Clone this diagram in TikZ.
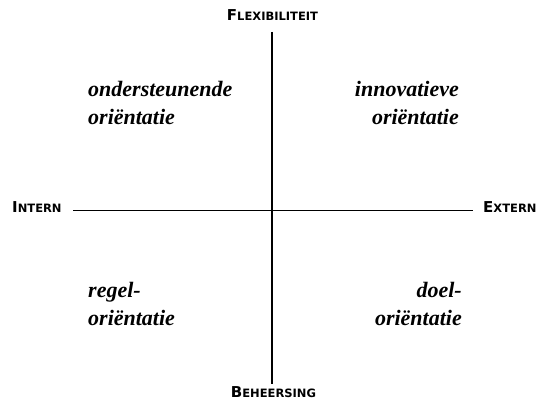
\documentclass[tikz,border=0pt]{standalone}
\usepackage{fontspec}
\setmainfont{Liberation Serif}
\newfontfamily\axisfont{DejaVu Sans}
\newcommand\smcap[2]{{\fontsize{15}{15}\selectfont #1}{\fontsize{11.5}{11.5}\selectfont #2}}
\tikzset{
  quad/.style={inner sep=0pt, font=\fontsize{22}{22}\selectfont\bfseries\itshape},
  axislabel/.style={inner sep=0pt, font=\axisfont\bfseries},
  axisline/.style={draw=black, line width=1.6pt}
}
\begin{document}
\begin{tikzpicture}[x=1pt,y=-1pt]
\useasboundingbox (0,0) rectangle (537,401);
% axes
\coordinate (top) at (272,32);
\coordinate (bottom) at (272,384);
\coordinate (left) at (73,210.5);
\coordinate (right) at (473,210.5);
\draw[axisline, line width=1.8pt] (top) -- (bottom);
\draw[axisline, line width=1.4pt] (left) -- (right);
% axis labels
\node[axislabel, anchor=base] (flex) at (272.5,20.7) {\smcap{F}{LEXIBILITEIT}};
\node[axislabel, anchor=base west] (intern) at (12,212) {\smcap{I}{NTERN}};
\node[axislabel, anchor=base west] (extern) at (483,212) {\smcap{E}{XTERN}};
\node[axislabel, anchor=base] (beh) at (273.5,397) {\smcap{B}{EHEERSING}};
% quadrants
\node[quad, anchor=base west] (tl1) at (88,96) {ondersteunende};
\node[quad, anchor=base west] (tl2) at (88,124) {oriëntatie};
\node[quad, anchor=base east] (tr1) at (459,96) {innovatieve};
\node[quad, anchor=base east] (tr2) at (459,124) {oriëntatie};
\node[quad, anchor=base west] (bl1) at (88,297) {regel-};
\node[quad, anchor=base west] (bl2) at (88,325) {oriëntatie};
\node[quad, anchor=base east] (br1) at (462,297) {doel-};
\node[quad, anchor=base east] (br2) at (462,325) {oriëntatie};
\end{tikzpicture}
\end{document}
